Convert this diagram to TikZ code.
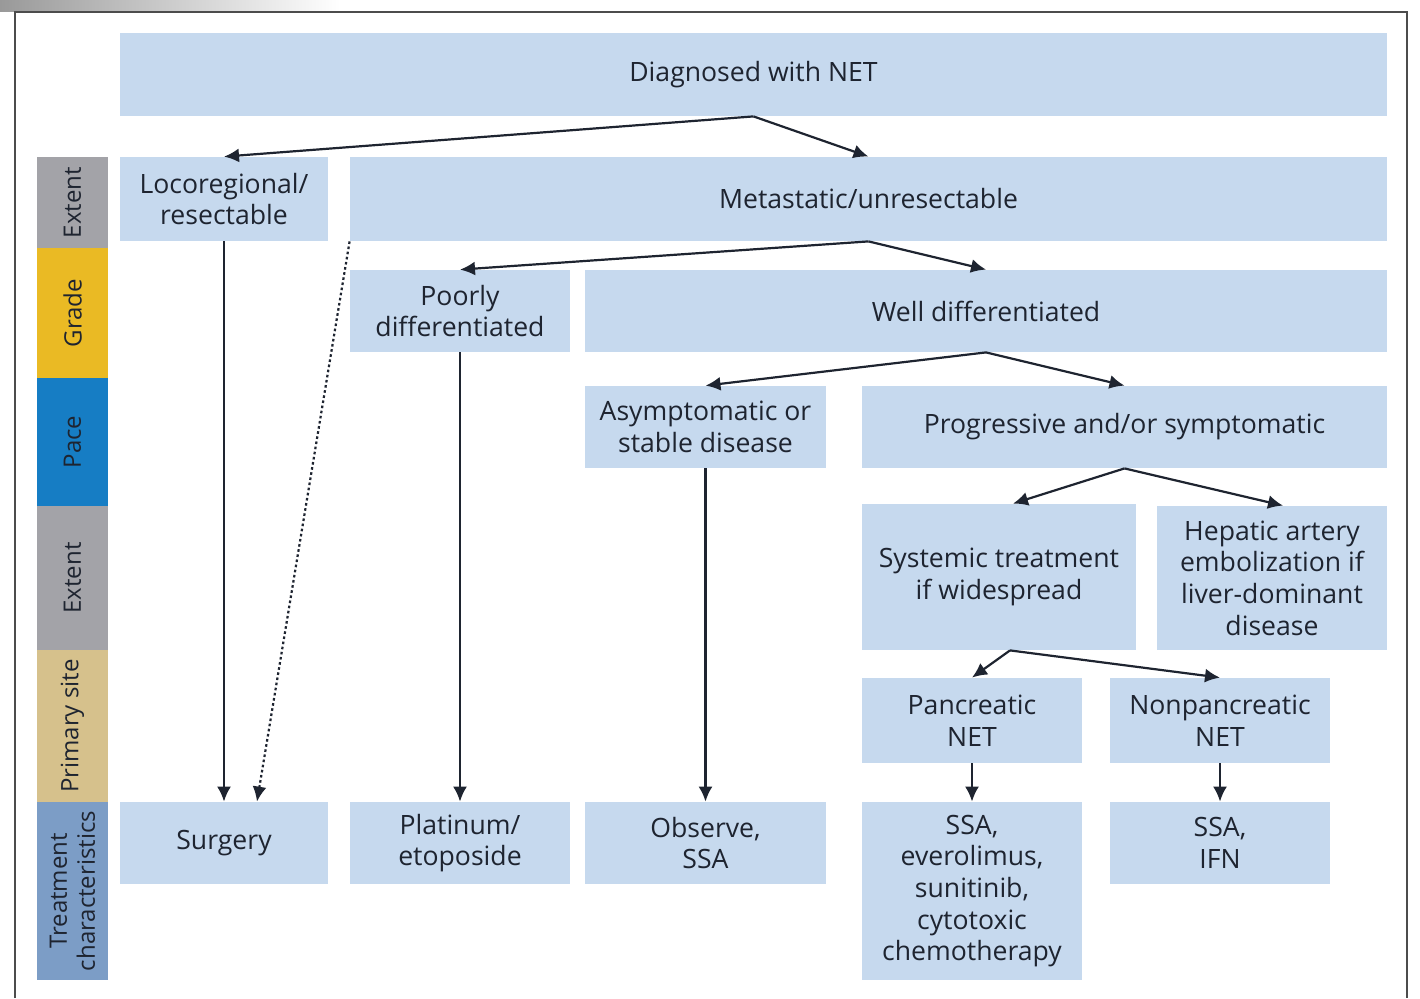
\documentclass[tikz,border=0pt]{standalone}
\usepackage{fontspec}
\setmainfont{Open Sans}
\usetikzlibrary{arrows.meta}
\definecolor{boxblue}{RGB}{198,217,238}
\definecolor{inkdark}{RGB}{30,36,48}
\definecolor{bandgray}{RGB}{163,163,168}
\definecolor{bandyellow}{RGB}{234,186,36}
\definecolor{bandblue}{RGB}{22,125,196}
\definecolor{bandtan}{RGB}{214,193,140}
\definecolor{bandsteel}{RGB}{124,157,198}

\begin{document}
\begin{tikzpicture}
  [x=0.5pt,y=-0.5pt,
   every node/.style={inner sep=0pt,align=center,text=inkdark,
     font=\fontsize{13.3}{15.8}\selectfont},
   box/.style={fill=boxblue},
   band/.style={rotate=90,minimum height=35.5pt,font=\fontsize{12}{14}\selectfont},
   link/.style={-{Latex[length=7.5pt,width=7pt]},line width=1.1pt,draw=inkdark}]
  \useasboundingbox (0,0) rectangle (1420,998);
  \shade[left color=black!40,right color=white] (0,0) rectangle (340,11);
  \draw[line width=1.2pt,black!70] (15,998) -- (15,12) -- (1407,12) -- (1407,998);

  % side bands
  \node[band,fill=bandgray,minimum width=45.5pt] (ext1) at (72.5,202.5) {Extent};
  \node[band,fill=bandyellow,minimum width=65pt] (grade) at (72.5,313) {Grade};
  \node[band,fill=bandblue,minimum width=64pt] (pace) at (72.5,442) {Pace};
  \node[band,fill=bandgray,minimum width=72pt] (ext2) at (72.5,578) {Extent};
  \node[band,fill=bandtan,minimum width=76pt] (site) at (72.5,726) {Primary site};
  \node[band,fill=bandsteel,minimum width=89pt] (treat) at (72.5,891) {Treatment\\characteristics};

  % boxes
  \node[box,minimum width=633.5pt,minimum height=41.5pt] (top) at (753.5,74.5) {Diagnosed with NET};
  \node[box,minimum width=104pt,minimum height=42pt] (loco) at (224,199) {Locoregional/\\resectable};
  \node[box,minimum width=518.5pt,minimum height=42pt] (meta) at (868.5,199) {Metastatic/unresectable};
  \node[box,minimum width=110pt,minimum height=41pt] (poor) at (460,311) {Poorly\\differentiated};
  \node[box,minimum width=401pt,minimum height=41pt] (well) at (986,311) {Well differentiated};
  \node[box,minimum width=120.5pt,minimum height=41pt] (asym) at (705.5,427) {Asymptomatic or\\stable disease};
  \node[box,minimum width=262.5pt,minimum height=41pt] (prog) at (1124.5,427) {Progressive and/or symptomatic};
  \node[box,minimum width=137pt,minimum height=73pt] (syst) at (999,577) {Systemic treatment\\if widespread};
  \node[box,minimum width=115pt,minimum height=72pt] (hep) at (1272,578) {Hepatic artery\\embolization if\\liver-dominant\\disease};
  \node[box,minimum width=110pt,minimum height=42.5pt] (panc) at (972,720.5) {Pancreatic\\NET};
  \node[box,minimum width=110pt,minimum height=42.5pt] (nonp) at (1220,720.5) {Nonpancreatic\\NET};
  \node[box,minimum width=104pt,minimum height=41pt] (surg) at (224,843) {Surgery};
  \node[box,minimum width=110pt,minimum height=41pt] (plat) at (460,843) {Platinum/\\etoposide};
  \node[box,minimum width=120.5pt,minimum height=41pt] (obs) at (705.5,843) {Observe,\\SSA};
  \node[box,minimum width=110pt,minimum height=89pt] (ssaa) at (972,891) {SSA,\\everolimus,\\sunitinib,\\cytotoxic\\chemotherapy};
  \node[box,minimum width=110pt,minimum height=41pt] (ssab) at (1220,843) {SSA,\\IFN};

  % split points
  \coordinate (j1) at (top.south);
  \coordinate (j2) at (meta.south);
  \coordinate (j3) at (well.south);
  \coordinate (j4) at (prog.south);
  \coordinate (j5) at ([xshift=5.5pt]syst.south);

  \foreach \from/\to in {j1/loco, j1/meta, j2/poor, j2/well, j3/asym, j3/prog, j5/panc, j5/nonp}
    \draw[link] (\from) -- (\to.north);
  \draw[link] (j4) -- ([xshift=7pt]syst.north);
  \draw[link] (j4) -- ([xshift=5.5pt]hep.north);

  \foreach \from/\to in {loco/surg, poor/plat, asym/obs, panc/ssaa, nonp/ssab}
    \draw[link] (\from.south) -- (\to.north);
  \draw[link,dash pattern=on 1.3pt off 1.3pt] (meta.south west) -- ([xshift=16.5pt]surg.north);

\end{tikzpicture}
\end{document}
